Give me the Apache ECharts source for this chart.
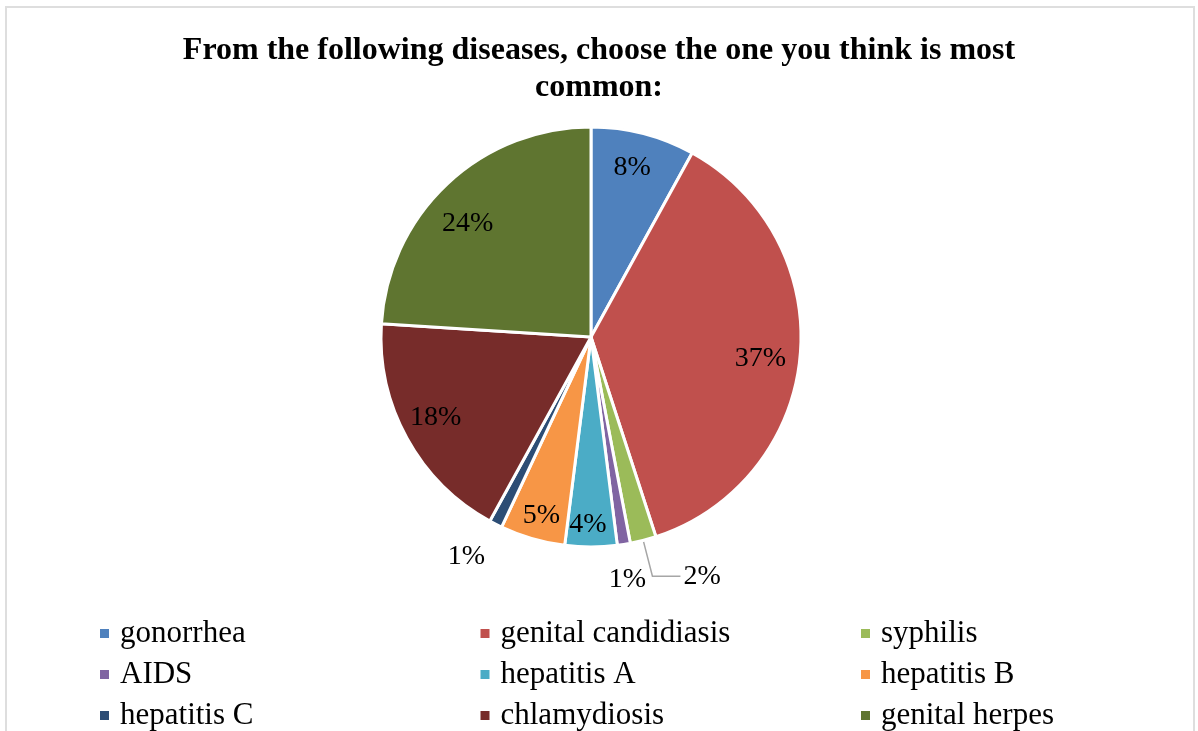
<!DOCTYPE html>
<html>
<head>
<meta charset="utf-8">
<script src="https://cdn.jsdelivr.net/npm/echarts@6/dist/echarts.min.js"></script>
<style>
  html, body { margin: 0; padding: 0; background: #fff; }
  #frame { position: absolute; left: 5px; top: 6px; width: 1190px; height: 740px; border: 2px solid #dedede; box-sizing: border-box; }
  #chart { position: absolute; left: 0; top: 0; width: 1198px; height: 731px; }
</style>
</head>
<body>
<div id="frame"></div>
<div id="chart"></div>
<script>
/* Pie: most common disease (survey answers, %) */

const titleText = "From the following diseases, choose the one you think is most\ncommon:";
const diseases = ["gonorrhea", "genital candidiasis", "syphilis", "AIDS", "hepatitis A",
                  "hepatitis B", "hepatitis C", "chlamydiosis", "genital herpes"];
const shares = [8, 37, 2, 1, 4, 5, 1, 18, 24];
const colors = ["#4F81BD", "#C0504D", "#9BBB59", "#8064A2", "#4BACC6",
                "#F79646", "#2C4D75", "#772C2A", "#5F7530"];
// slices whose label sits outside the pie
const outsideLbl = ["syphilis", "AIDS", "hepatitis C"];
// small nudges so labels sit where Excel put them
const lblNudge = {
  "gonorrhea": [-3, 2], "genital candidiasis": [-7, 5], "hepatitis A": [-3, 10],
  "hepatitis B": [0, 8], "chlamydiosis": [0, -5], "genital herpes": [-2, 16],
  "AIDS": [-2, 0], "hepatitis C": [-13, 0]
};

(function(){
  const FONT = "Liberation Serif";
  const R = 210;
  const center = [591, 337];

  const el = document.getElementById("chart");
  const chart = echarts.init(el);

  const pct = (v)=> Math.round(v) + "%";
  const lblStyle = { fontFamily: FONT, fontSize: 28, color: "#000" };

  // real slices
  const mainData = diseases.map((name, i)=>({
    name,
    value: shares[i],
    itemStyle: { color: colors[i] },
    label: name === "syphilis"
      ? { show: true, position: "outside", formatter: pct(shares[i]), padding: [0, 0, 10, 0] }
      : { show: false },
    labelLine: name === "syphilis"
      ? { show: true, length: 37, length2: 28, lineStyle: { color: "#a6a6a6", width: 1.5 } }
      : { show: false }
  }));

  // transparent helper pies, only used to place the labels
  const helperData = (showIt)=> diseases.map((name, i)=>({
    name,
    value: shares[i],
    itemStyle: { color: "transparent" },
    label: { show: showIt(name), offset: lblNudge[name] || [0, 0] }
  }));
  const innerLblData = helperData((n)=> outsideLbl.indexOf(n) < 0);
  const outerLblData = helperData((n)=> n === "AIDS" || n === "hepatitis C");

  const helperSeries = (name, radius, data)=>({
    type: "pie",
    name,
    radius: [0, radius],
    center,
    startAngle: 90,
    silent: true,
    legendHoverLink: false,
    avoidLabelOverlap: false,
    label: Object.assign({ position: "inside", formatter: (p)=> pct(p.value) }, lblStyle),
    labelLine: { show: false },
    data
  });

  chart.setOption({
    animation: false,
    title: {
      text: titleText,
      left: "center",
      top: 27,
      textStyle: { fontFamily: FONT, fontSize: 32, fontWeight: "bold", color: "#000", lineHeight: 37 }
    },
    legend: {
      data: diseases,
      orient: "horizontal",
      left: 93,
      top: 613,
      width: 1150,
      itemWidth: 11,
      itemHeight: 11,
      itemGap: 10,
      icon: "rect",
      selectedMode: false,
      textStyle: { fontFamily: FONT, fontSize: 31, color: "#000", width: 348.5, lineHeight: 28.5, padding: [0, 0, 0, 5] }
    },
    series: [
      {
        type: "pie",
        name: "main",
        radius: [0, R],
        center,
        startAngle: 90,
        clockwise: true,
        avoidLabelOverlap: false,
        silent: true,
        itemStyle: { borderColor: "#fff", borderWidth: 3 },
        label: Object.assign({ distanceToLabelLine: 3 }, lblStyle),
        data: mainData
      },
      helperSeries("inner labels", R * 1.66, innerLblData),
      helperSeries("outer labels", 2 * 243, outerLblData)
    ]
  });

  window.addEventListener("resize", ()=>chart.resize());
})();
</script>
</body>
</html>
